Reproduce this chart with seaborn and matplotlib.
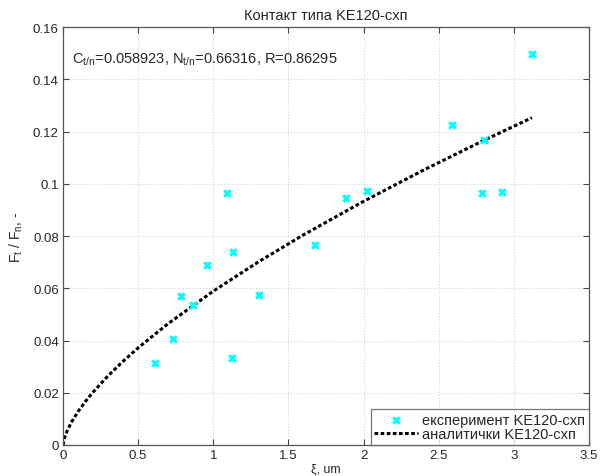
import matplotlib
matplotlib.use("Agg")
from matplotlib import pyplot as plt
import seaborn as sns
import pandas as pd

# measured points (displacement, friction ratio)
exp_x = [0.61, 0.73, 0.785, 0.865, 0.958, 1.091, 1.124, 1.131, 1.304, 1.677,
         1.88, 2.023, 2.588, 2.788, 2.80, 2.92, 3.12]
exp_y = [0.0314, 0.0406, 0.0570, 0.0536, 0.0689, 0.0965, 0.0333, 0.0739, 0.0574, 0.0766,
         0.0945, 0.0972, 0.1225, 0.0965, 0.1167, 0.0969, 0.1497]

# analytic curve C*x^N sampled (C=0.058923, N=0.66316)
fit_x = [0.0, 0.01, 0.03, 0.06, 0.1, 0.15, 0.2, 0.3, 0.4, 0.5, 0.7, 1.0,
         1.3, 1.6, 2.0, 2.4, 2.8, 3.12]
fit_y = [0.0, 0.00278, 0.00576, 0.00912, 0.01280, 0.01675, 0.02026, 0.02652, 0.03209,
         0.03721, 0.04651, 0.05892, 0.07012, 0.08047, 0.09331, 0.10530, 0.11664, 0.12532]

x_ticks = [0, 0.5, 1, 1.5, 2, 2.5, 3, 3.5]
y_ticks = [0, 0.02, 0.04, 0.06, 0.08, 0.1, 0.12, 0.14, 0.16]

sns.set_style("white")
plt.rcParams["font.family"] = ["Liberation Sans", "DejaVu Sans"]
plt.rcParams["mathtext.default"] = "regular"
plt.rcParams["font.size"] = 9.5

df_exp = pd.DataFrame({"x": exp_x, "y": exp_y})
df_fit = pd.DataFrame({"x": fit_x, "y": fit_y})

fig = plt.figure(figsize=(6.06, 4.77), dpi=100)
ax = fig.add_axes([0.104, 0.065, 0.868, 0.876])

sns.scatterplot(data=df_exp, x="x", y="y", ax=ax, marker="x", color="#00ffff",
                s=22, linewidth=2.2, label="експеримент KE120-схп", zorder=3)
sns.lineplot(data=df_fit, x="x", y="y", ax=ax, color="black", linestyle=(0, (1.2, 0.8)),
             linewidth=2.2, label="аналитички KE120-схп", zorder=2)

ax.set_xlim(0, 3.5)
ax.set_ylim(0, 0.16)
ax.set_xticks(x_ticks)
ax.set_xticklabels(["0", "0.5", "1", "1.5", "2", "2.5", "3", "3.5"])
ax.set_yticks(y_ticks)
ax.set_yticklabels(["0", "0.02", "0.04", "0.06", "0.08", "0.1", "0.12", "0.14", "0.16"])
ax.tick_params(direction="in", length=4, color="#444444", labelsize=9.5, pad=3,
               top=True, right=True, bottom=True, left=True)
ax.grid(True, linestyle=(0, (1, 2)), color="#cccccc", linewidth=0.7)
for sp in ax.spines.values():
    sp.set_color("#555555")
    sp.set_linewidth(0.9)

ax.set_title("Контакт типа KE120-схп", fontsize=10.5, pad=6)
ax.set_xlabel("ξ, um", fontsize=9, labelpad=1)
ax.set_ylabel("F$_t$ / F$_n$, -", fontsize=10, labelpad=6)

ax.text(0.06, 0.148, "C$_{t/n}$=0.058923, N$_{t/n}$=0.66316, R=0.86295",
        fontsize=10.5, va="center", ha="left")

leg = ax.legend(loc="lower right", frameon=True, fancybox=False, fontsize=10.5,
                borderaxespad=0, handlelength=3.0, handletextpad=0.3,
                borderpad=0.25, labelspacing=0.05)
leg.get_frame().set_edgecolor("#555555")
leg.get_frame().set_linewidth(0.9)

fig.savefig("out.png", dpi=100)
